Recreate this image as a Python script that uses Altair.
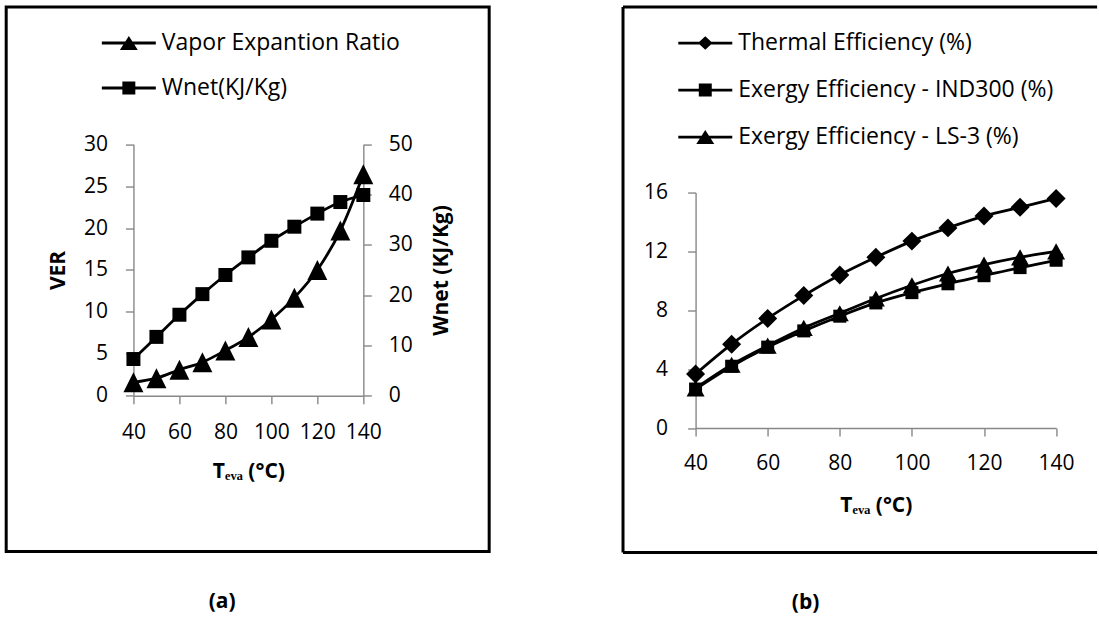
import altair as alt
import pandas as pd

# ---------------- data ----------------
T = [40, 50, 60, 70, 80, 90, 100, 110, 120, 130, 140]
ver = [1.6, 2.1, 3.1, 4.0, 5.4, 7.0, 9.1, 11.7, 15.0, 19.7, 26.4]
wnet = [7.3, 11.7, 16.1, 20.2, 24.0, 27.5, 30.8, 33.6, 36.2, 38.5, 39.9]
thermal = [3.67, 5.7, 7.45, 9.0, 10.4, 11.6, 12.7, 13.6, 14.4, 15.0, 15.6]
ind300 = [2.65, 4.2, 5.5, 6.6, 7.6, 8.5, 9.2, 9.8, 10.35, 10.9, 11.4]
ls3 = [2.7, 4.3, 5.6, 6.8, 7.8, 8.8, 9.7, 10.5, 11.1, 11.6, 12.0]

x_ticks = [40, 60, 80, 100, 120, 140]
ver_ticks = [0, 5, 10, 15, 20, 25, 30]
wnet_ticks = [0, 10, 20, 30, 40, 50]
eff_ticks = [0, 4, 8, 12, 16]

names_a = ["Vapor Expantion Ratio", "Wnet(KJ/Kg)"]
names_b = ["Thermal Efficiency (%)", "Exergy Efficiency - IND300 (%)", "Exergy Efficiency - LS-3 (%)"]
x_title = "Tₑᵥₐ (°C)"

df_a = pd.DataFrame({"T": T, "ver": ver, "wnet": wnet})
df_b = pd.concat([
    pd.DataFrame({"T": T, "v": thermal, "s": names_b[0]}),
    pd.DataFrame({"T": T, "v": ind300, "s": names_b[1]}),
    pd.DataFrame({"T": T, "v": ls3, "s": names_b[2]}),
])
one = pd.DataFrame({"k": [0]})
leg_a = pd.DataFrame({"s": names_a})
leg_b = pd.DataFrame({"s": names_b})

FONT = "Open Sans"
GRAY = "#888888"

TRI = "M0,-1L1,1L-1,1Z"
DIA = "M0,-1L1,0L0,1L-1,0Z"
BAR = "M-1,-0.052L1,-0.052L1,0.052L-1,0.052Z "
LTRI = BAR + "M0,-0.26L0.333,0.26L-0.333,0.26Z"
LSQ = BAR + "M-0.24,-0.24L0.24,-0.24L0.24,0.24L-0.24,0.24Z"
LDIA = BAR + "M0,-0.25L0.27,0L0,0.25L-0.27,0Z"


def xaxis(lp, tp):
    return alt.X("T:Q", scale=alt.Scale(domain=[40, 140], nice=False, zero=False),
                 axis=alt.Axis(values=x_ticks, title=x_title, labelPadding=lp, titlePadding=tp))


def legend(x, y, rowpad):
    return alt.Legend(orient="none", legendX=x, legendY=y, title=None, direction="vertical",
                      symbolSize=2916, labelFont=FONT, labelFontSize=23, labelColor="black",
                      labelOffset=6, labelLimit=500, rowPadding=rowpad, padding=0,
                      symbolStrokeWidth=0, symbolFillColor="black")

# ---------------- panel (a) ----------------
# plot origin of (a) is shared with (b) by the concat layout; its value axis is taller
# than the shared origin, so its y range reaches above it.
WA, HA = 230, 203.3
RANGE_A = [203.3, -48.4]
xa = xaxis(18, 18)
frame_a = alt.Chart(one).mark_rect(filled=False, stroke="black", strokeWidth=3).encode(
    x=alt.value(-127.3), x2=alt.value(355.9), y=alt.value(-185.7), y2=alt.value(359.0))
y_ver = alt.Y("ver:Q", scale=alt.Scale(domain=[0, 30], nice=False, range=RANGE_A),
              axis=alt.Axis(values=ver_ticks, title="VER", labelPadding=18, titlePadding=15))
line_ver = alt.Chart(df_a).mark_line(color="black", strokeWidth=2.8, interpolate="monotone").encode(x=xa, y=y_ver)
pts_ver = alt.Chart(df_a).mark_point(shape=TRI, size=400, filled=True, color="black", opacity=1).encode(x=xa, y=y_ver)
y_w = alt.Y("wnet:Q", scale=alt.Scale(domain=[0, 50], nice=False, range=RANGE_A),
            axis=alt.Axis(values=wnet_ticks, title="Wnet (KJ/Kg)", orient="right", labelPadding=17,
                          titlePadding=18, titleAngle=270, titleBaseline="top"))
line_w = alt.Chart(df_a).mark_line(color="black", strokeWidth=2.8, interpolate="monotone").encode(x=xa, y=y_w)
pts_w = alt.Chart(df_a).mark_point(shape="square", size=196, filled=True, color="black", opacity=1).encode(x=xa, y=y_w)
lg_a = alt.Chart(leg_a).transform_filter("false").mark_point(filled=True, color="black", opacity=1).encode(
    shape=alt.Shape("s:N", scale=alt.Scale(domain=names_a, range=[LTRI, LSQ]), legend=legend(-31.6, -176.6, 6)))

chart_a = alt.layer(
    alt.layer(frame_a, line_ver, pts_ver),
    alt.layer(line_w, pts_w),
    lg_a,
).resolve_scale(y="independent").properties(
    width=WA, height=HA,
    title=alt.TitleParams("(a)", orient="bottom", frame="bounds", anchor="middle", dx=-25.5, offset=38,
                          font=FONT, fontSize=21, fontWeight="bold", color="black"))

# ---------------- panel (b) ----------------
WB, HB = 360.7, 235.6
xb = xaxis(16, 21)
fb = alt.Chart(one).mark_rule(color="black", strokeWidth=3)
frame_b = alt.layer(
    fb.encode(x=alt.value(-72.6), x2=alt.value(401.7), y=alt.value(-185.7)),
    fb.encode(x=alt.value(-72.6), x2=alt.value(401.7), y=alt.value(360.0)),
    fb.encode(x=alt.value(-72.6), y=alt.value(-185.7), y2=alt.value(360.0)),
)
y_e = alt.Y("v:Q", scale=alt.Scale(domain=[0, 16], nice=False),
            axis=alt.Axis(values=eff_ticks, title=None, labelPadding=20))
lines_b = alt.Chart(df_b).mark_line(color="black", strokeWidth=2.8, interpolate="monotone").encode(
    x=xb, y=y_e, detail="s:N")
p_th = alt.Chart(df_b).transform_filter(alt.datum.s == names_b[0]).mark_point(
    shape=DIA, size=361, filled=True, color="black", opacity=1).encode(x=xb, y=y_e)
p_ind = alt.Chart(df_b).transform_filter(alt.datum.s == names_b[1]).mark_point(
    shape="square", size=169, filled=True, color="black", opacity=1).encode(x=xb, y=y_e)
p_ls = alt.Chart(df_b).transform_filter(alt.datum.s == names_b[2]).mark_point(
    shape="M0,-0.9L1,0.9L-1,0.9Z", size=324, filled=True, color="black", opacity=1).encode(x=xb, y=y_e)
lg_b = alt.Chart(leg_b).transform_filter("false").mark_point(filled=True, color="black", opacity=1).encode(
    shape=alt.Shape("s:N", scale=alt.Scale(domain=names_b, range=[LDIA, LSQ, LTRI]), legend=legend(-17.3, -176.5, 8)))

chart_b = alt.layer(frame_b, lines_b, p_ind, p_ls, p_th, lg_b).properties(
    width=WB, height=HB,
    title=alt.TitleParams("(b)", orient="bottom", frame="bounds", anchor="middle", dx=-54.5, offset=38,
                          font=FONT, fontSize=21, fontWeight="bold", color="black"))

chart = alt.hconcat(chart_a, chart_b, spacing=129.4).resolve_scale(
    shape="independent").resolve_legend(shape="independent").properties(
    padding={"left": 4.5, "top": 4.5, "right": 0, "bottom": 0}
).configure_view(stroke=None).configure_axis(
    grid=False, domainColor=GRAY, tickColor=GRAY, domainWidth=1.4, tickWidth=1.4, tickSize=8,
    labelFont=FONT, labelFontSize=21, labelColor="black", labelFlush=False, labelOverlap=False,
    titleFont=FONT, titleFontSize=21, titleFontWeight="bold", titleColor="black"
)

chart.save("out.html", embed_options={"renderer": "svg", "actions": False})
